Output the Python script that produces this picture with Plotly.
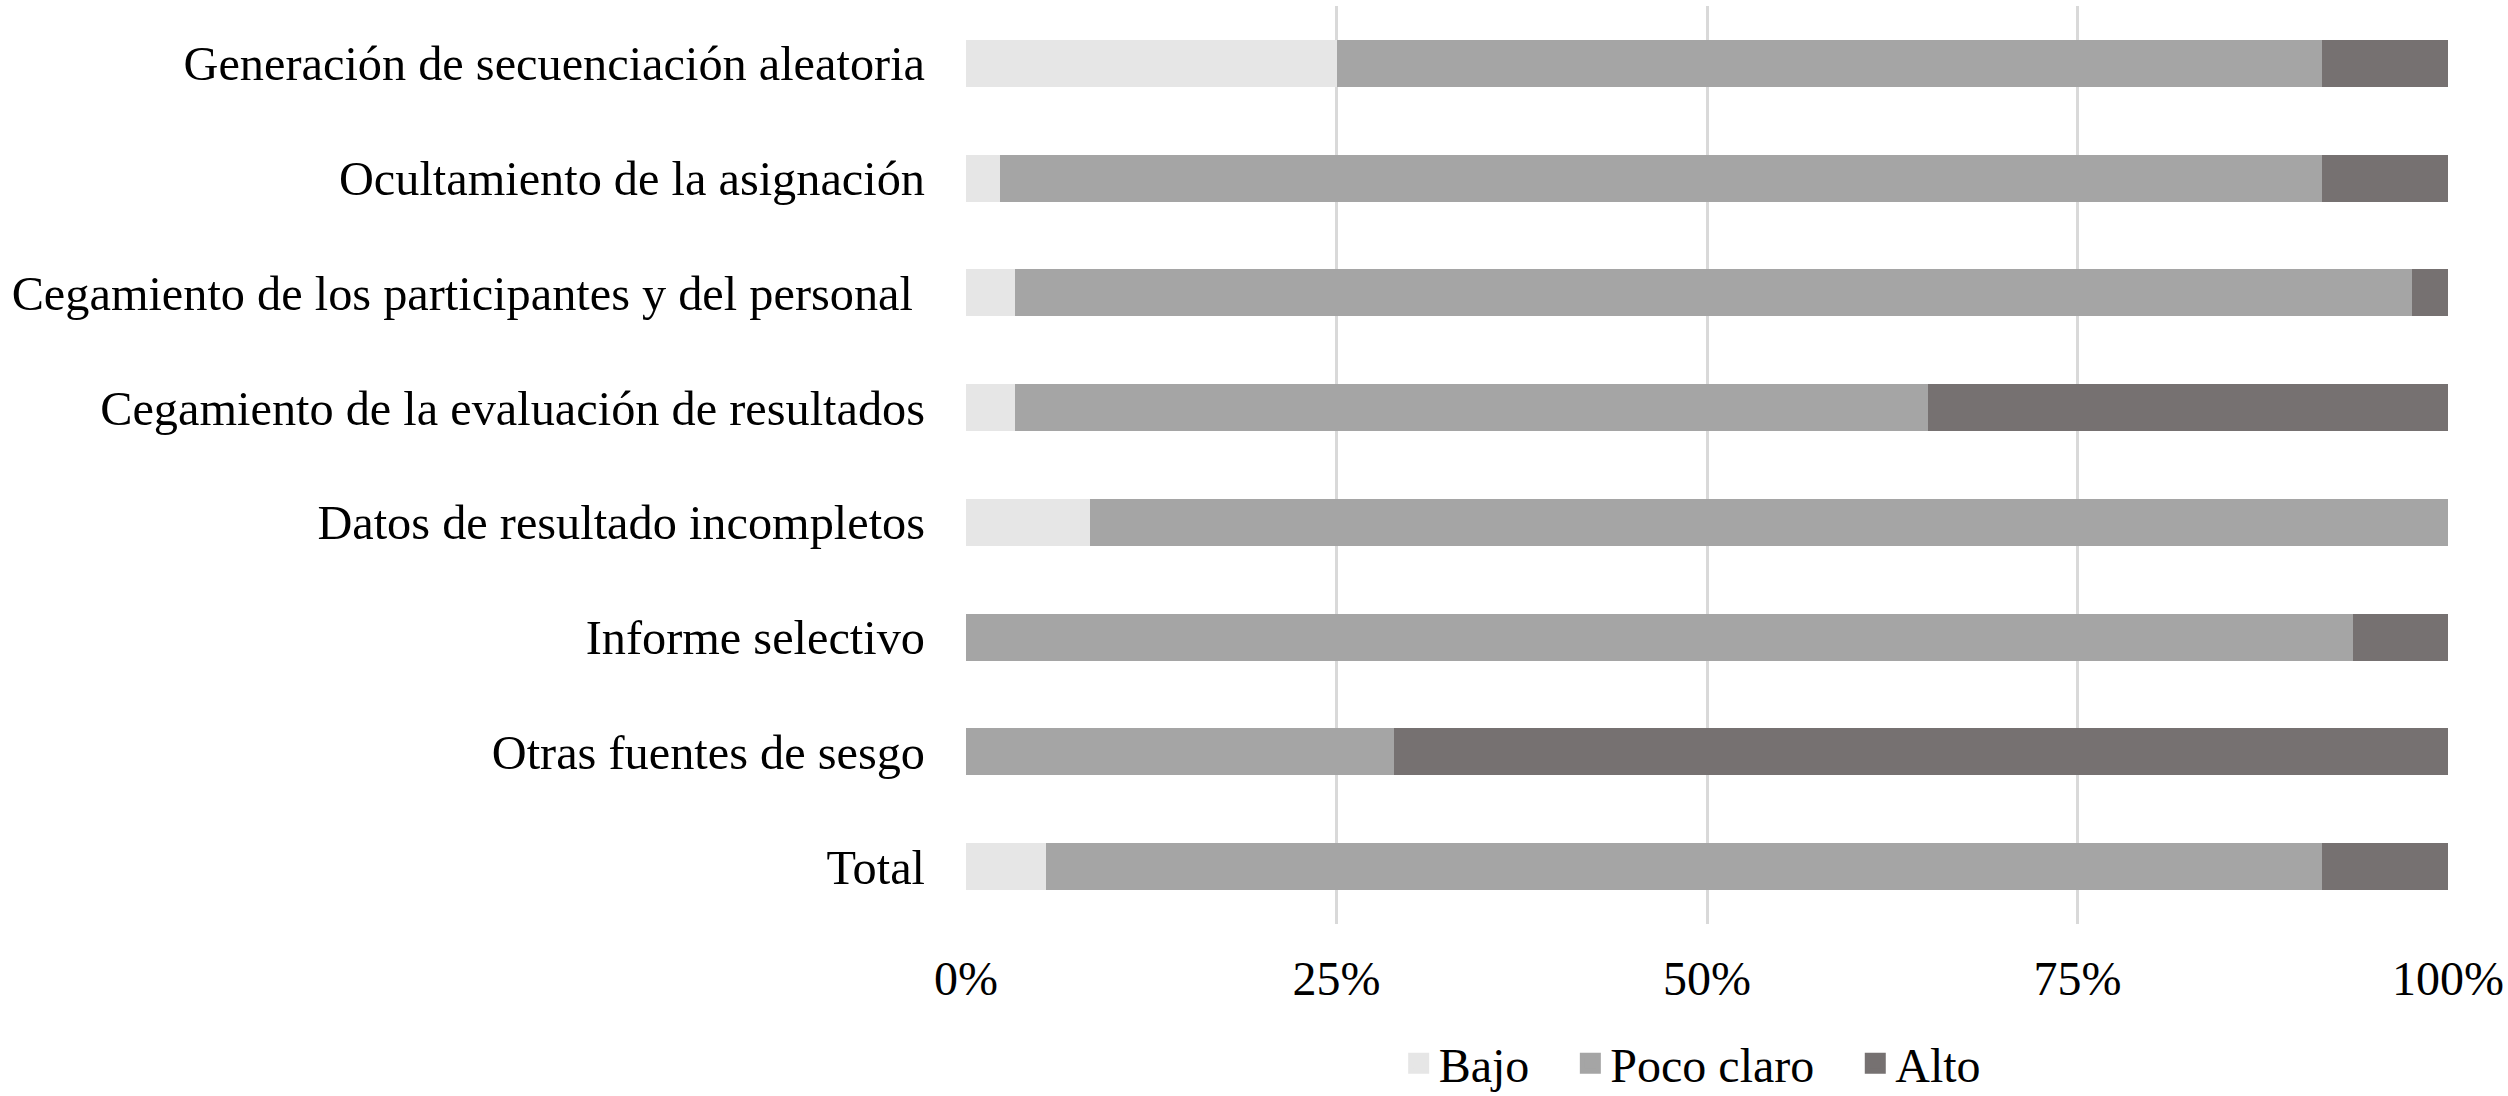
import plotly.graph_objects as go

categories = [
    "Generación de secuenciación aleatoria",
    "Ocultamiento de la asignación",
    "Cegamiento de los participantes y del personal\u00a0",
    "Cegamiento de la evaluación de resultados",
    "Datos de resultado incompletos",
    "Informe selectivo",
    "Otras fuentes de sesgo",
    "Total",
]
bajo = [25.0, 2.3, 3.3, 3.3, 8.4, 0.0, 0.0, 5.4]
poco_claro = [66.5, 89.2, 94.3, 61.6, 91.6, 93.6, 28.9, 86.1]
alto = [8.5, 8.5, 2.4, 35.1, 0.0, 6.4, 71.1, 8.5]

series_names = ["Bajo", "Poco claro", "Alto"]
series = [(series_names[0], bajo, "#e6e6e6"), (series_names[1], poco_claro, "#a5a5a5"), (series_names[2], alto, "#767171")]

FONT = "Liberation Serif, Times New Roman, serif"

fig = go.Figure()
for name, vals, color in series:
    fig.add_trace(go.Bar(
        y=categories, x=vals, name=name, orientation="h",
        marker=dict(color=color, line=dict(width=0)),
        hoverinfo="x+y+name", showlegend=False, legendgroup=name,
    ))
# legend entries (larger square swatches); trailing non-breaking spaces widen the gap between entries
for i, (name, vals, color) in enumerate(series):
    pad = "\u00a0\u00a0\u00a0" if i < len(series) - 1 else ""
    fig.add_trace(go.Scatter(
        x=[None], y=[None], mode="markers", name=name + pad, legendgroup=name,
        marker=dict(symbol="square", size=16, color=color, line=dict(color=color, width=5)),
        showlegend=True, hoverinfo="skip",
    ))

fig.update_layout(
    width=2508, height=1096,
    barmode="stack", bargap=0.59,
    plot_bgcolor="white", paper_bgcolor="white",
    margin=dict(l=966, r=60, t=6, b=172, autoexpand=False),
    font=dict(family=FONT, size=48, color="black"),
    legend=dict(orientation="h", x=0.49, xanchor="center", y=-0.152, yanchor="middle",
                font=dict(family=FONT, size=48, color="black"), itemwidth=30,
                traceorder="normal", bgcolor="rgba(0,0,0,0)"),
    xaxis=dict(range=[0, 100], tickvals=[0, 25, 50, 75, 100],
               ticktext=["0%", "25%", "50%", "75%", "100%"],
               showgrid=True, gridcolor="#d9d9d9", gridwidth=3,
               zeroline=False, showline=False, ticks="", ticklabelstandoff=22,
               tickfont=dict(family=FONT, size=48, color="black")),
    yaxis=dict(autorange="reversed", showgrid=False, zeroline=False, showline=False,
               ticks="", ticklabelstandoff=40,
               tickfont=dict(family=FONT, size=48.3, color="black")),
)

fig.write_html("out.html", config={"displayModeBar": False},
               post_script="document.body.style.margin='0';document.body.style.overflow='hidden';")
